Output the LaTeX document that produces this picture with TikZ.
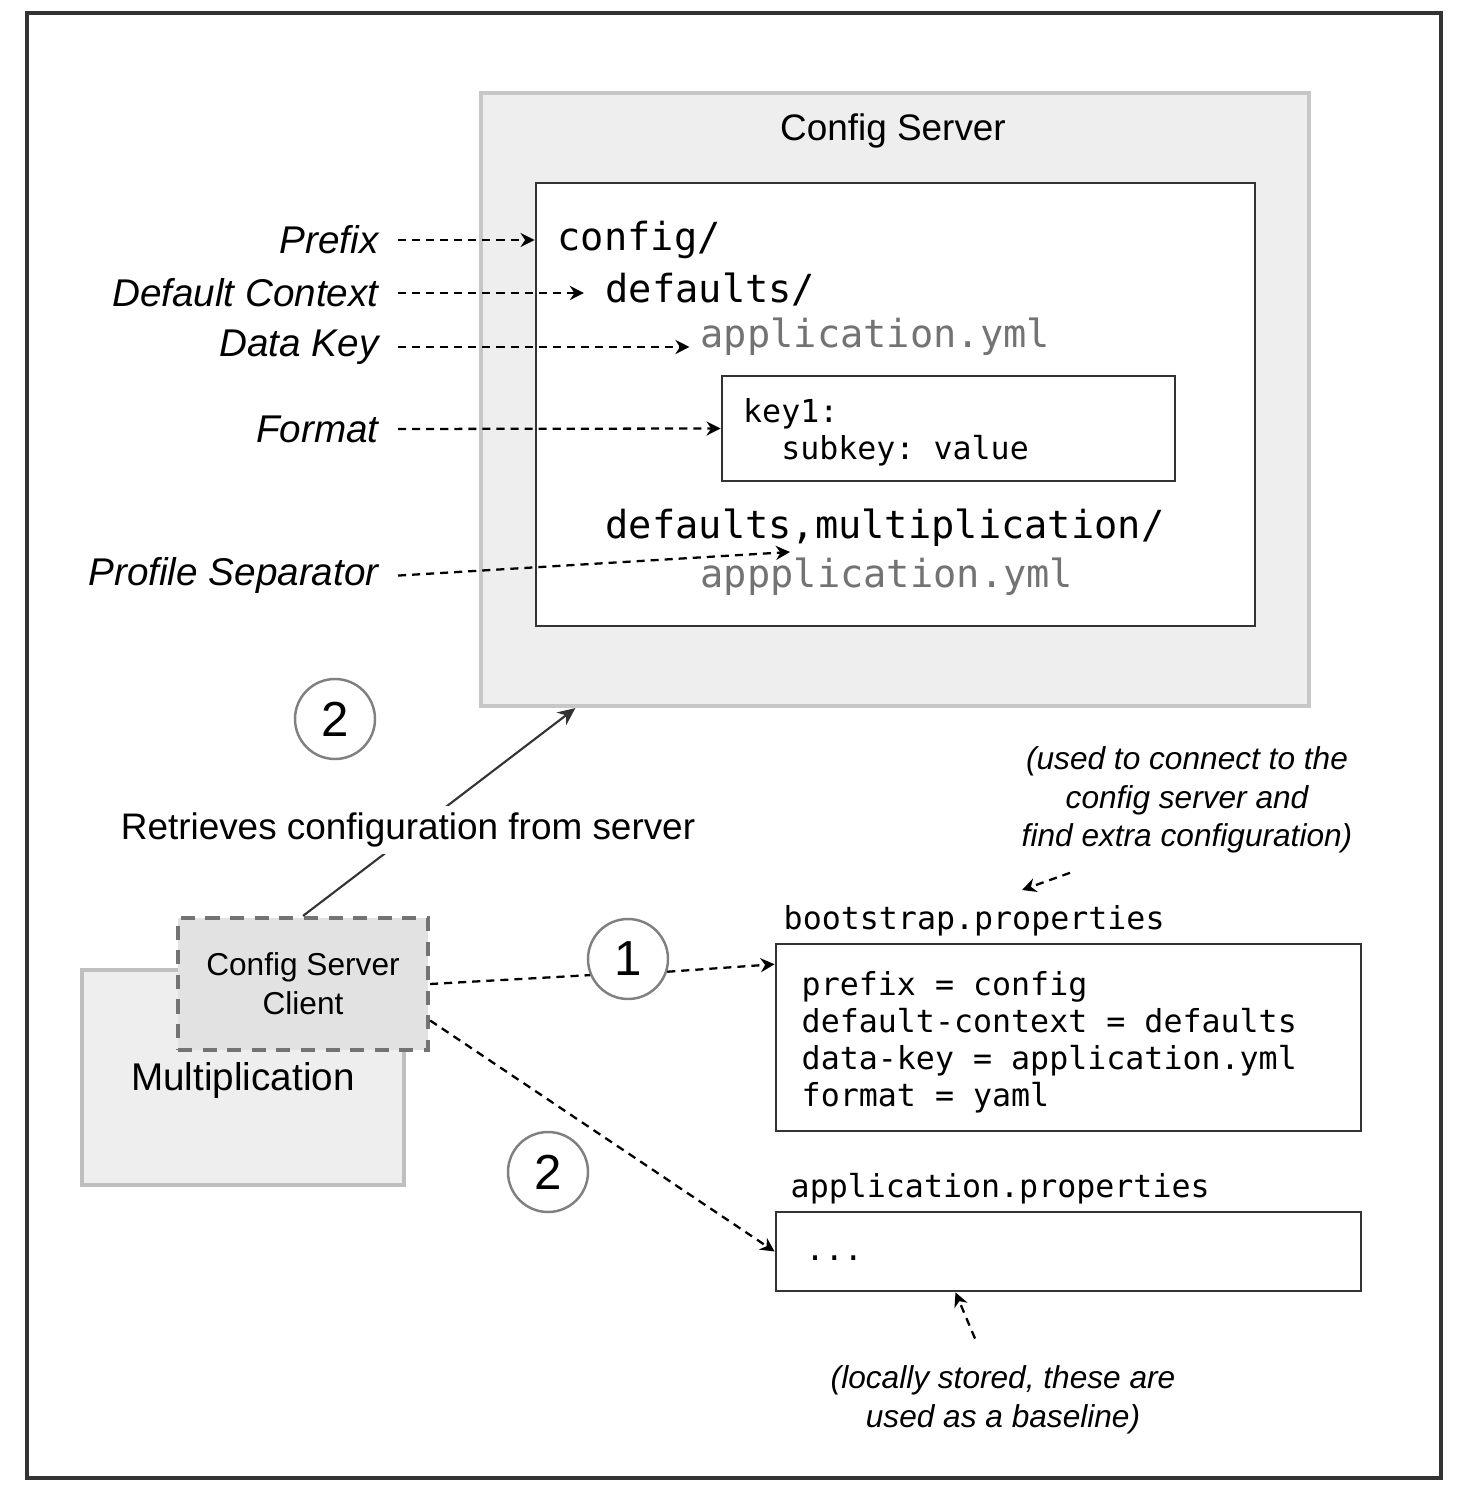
\documentclass[tikz,border=0pt]{standalone}
\usepackage{fontspec}
\setmainfont{Liberation Sans}
\setmonofont{DejaVu Sans Mono}
\usetikzlibrary{arrows.meta}
\definecolor{panel}{HTML}{EEEEEE}
\definecolor{clientfill}{HTML}{E2E2E2}
\begin{document}
\begin{tikzpicture}[x=0.1mm, y=-0.1mm,
    box/.style={draw=black!80, line width=0.8pt, inner sep=0pt},
    lbl/.style={font=\fontsize{11}{13}\selectfont\itshape, anchor=east},
    code/.style={font=\fontsize{11}{13}\selectfont\ttfamily, anchor=west, inner sep=0pt},
    small/.style={font=\fontsize{9}{10.5}\selectfont\ttfamily, align=left, inner sep=0pt},
    hint/.style={dash pattern=on 2.3pt off 1.7pt, line width=0.65pt, -{Stealth[length=4pt,width=4pt]}},
    num/.style={circle, draw=black!50, line width=0.7pt, fill=white, minimum size=0.8cm, inner sep=0pt, font=\fontsize{14}{16}\selectfont},
    note/.style={font=\fontsize{9}{11}\selectfont\itshape, align=center}]
  \useasboundingbox (0,0) rectangle (1468,1495);
  \draw[black!80, line width=0.9pt] (27,13) rectangle (1441,1478);
  \node[draw=black!22, line width=1.2pt, fill=panel, minimum width=8.28cm, minimum height=6.13cm] (server) at (895,399.5) {};
  \node[font=\fontsize{10.5}{12}\selectfont] (srvtitle) at (893,131) {Config Server};
  \node[box, fill=white, minimum width=7.19cm, minimum height=4.43cm] (files) at (895.5,404.5) {};
  \node[box, minimum width=4.53cm, minimum height=1.05cm] (keybox) at (948.5,428.5) {};
  \node[code] (cfg) at (557,240) {config/};
  \node[code] (dflt) at (605,290) {defaults/};
  \node[code, text=black!55] (appyml) at (700,337) {application.yml};
  \node[small] (keytxt) at (886,432) {key1:\\\ \ subkey: value};
  \node[code] (multi) at (605,528) {defaults,multiplication/};
  \node[code, text=black!55] (appyml2) at (700,577) {appplication.yml};
  \node[lbl] (prefix) at (391,240) {Prefix};
  \node[lbl] (context) at (391,293) {Default Context};
  \node[lbl] (datakey) at (391,347) {Data Key};
  \node[lbl] (format) at (391,429) {Format};
  \node[lbl] (sep) at (391,576) {Profile Separator};
  \coordinate (sepend) at (790,552);
  \draw[hint, shorten <=2pt] (prefix.east) -- (files.west |- prefix.east);
  \draw[hint, shorten <=2pt, shorten >=6pt] (context.east) -- (dflt.west |- context.east);
  \draw[hint, shorten <=2pt, shorten >=3pt] (datakey.east) -- (appyml.west |- datakey.east);
  \draw[hint, shorten <=2pt] (format.east) -- (keybox.west);
  \draw[hint, shorten <=2pt] (sep.east) -- (sepend);
  \node[draw=black!25, line width=1pt, fill=panel, minimum width=3.22cm, minimum height=2.15cm] (mult) at (243,1077.5) {};
  \node[font=\fontsize{11}{13}\selectfont] (multlbl) at (243,1080) {Multiplication};
  \node[draw=black!55, fill=clientfill, line width=1.2pt, dash pattern=on 4pt off 3pt, minimum width=2.5cm, minimum height=1.32cm, align=center, font=\fontsize{9}{11}\selectfont] (client) at (303,984) {Config Server\\Client};
  \node[num] (c2a) at (335,719) {2};
  \node[num] (c1) at (628,959) {1};
  \node[num] (c2b) at (548,1172) {2};
  \draw[black!80, line width=0.6pt, -{Stealth[length=5pt,width=4.5pt]}] (client.north) -- (server.224.7);
  \node[fill=white, inner sep=2pt, font=\fontsize{10.5}{12}\selectfont] (retr) at (408,830) {Retrieves configuration from server};
  \node[small, anchor=west] (bootlbl) at (783,921) {bootstrap.properties};
  \node[box, minimum width=5.85cm, minimum height=1.87cm] (boot) at (1068.5,1037.5) {};
  \node[small, anchor=west] (boottxt) at (801,1042) {prefix = config\\default-context = defaults\\data-key = application.yml\\format = yaml};
  \node[small, anchor=west] (applbl) at (790,1189) {application.properties};
  \node[box, minimum width=5.85cm, minimum height=0.79cm] (app) at (1068.5,1251.5) {};
  \node[small, anchor=west] (apptxt) at (805,1258) {...};
  \draw[hint, -] (client.east) -- (c1.203);
  \draw[hint] (c1.-18) -- (boot.166.8);
  \draw[hint] (client.-16) -- (app.west);
  \node[note] (usenote) at (1187,800) {(used to connect to the\\config server and\\find extra configuration)};
  \coordinate (usetip) at (1022,890);
  \draw[hint] ([xshift=-1.17cm, yshift=-0.07cm]usenote.south) -- (usetip);
  \node[note] (localnote) at (1003,1400) {(locally stored, these are\\used as a baseline)};
  \draw[hint] ([xshift=-0.28cm, yshift=0.15cm]localnote.north) -- ([xshift=-1.13cm]app.south);
\end{tikzpicture}
\end{document}
